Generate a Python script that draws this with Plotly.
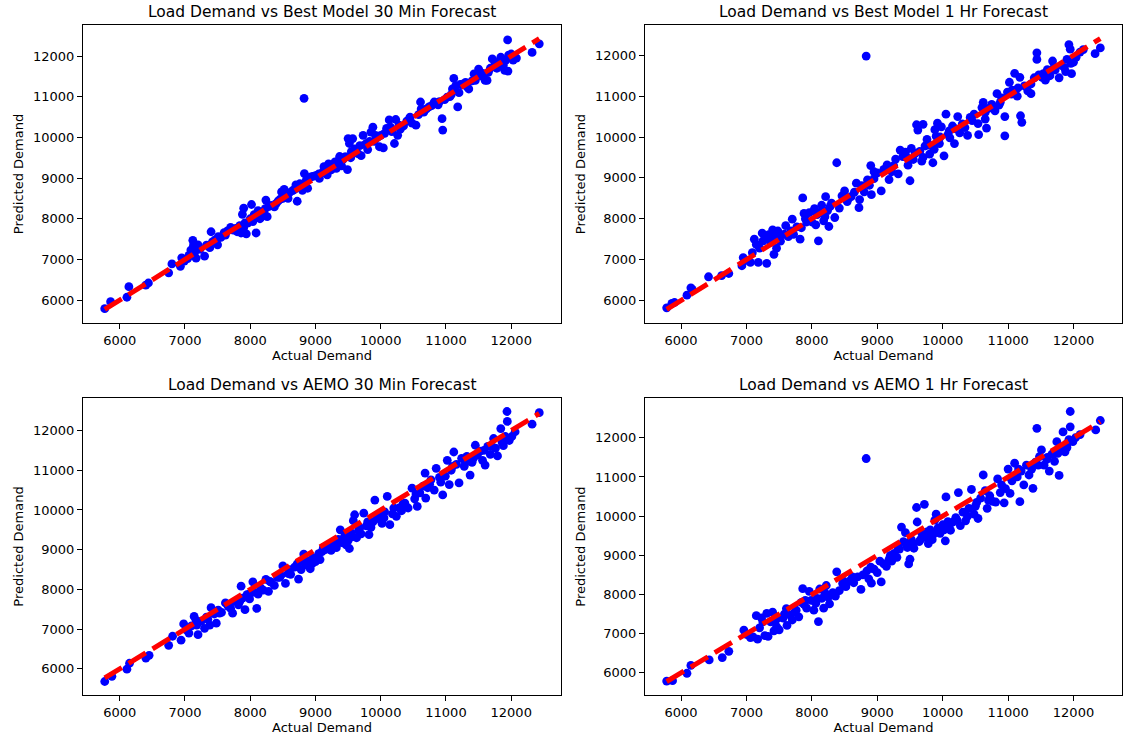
import plotly.graph_objects as go

# ---------------- data ----------------
titles = [
    "Load Demand vs Best Model 30 Min Forecast",
    "Load Demand vs Best Model 1 Hr Forecast",
    "Load Demand vs AEMO 30 Min Forecast",
    "Load Demand vs AEMO 1 Hr Forecast",
]
x_label = "Actual Demand"
y_label = "Predicted Demand"
tick_values = [6000, 7000, 8000, 9000, 10000, 11000, 12000]

best30_pairs = [
    (5770,5790),(5860,5960),(6110,6070),(6140,6330),(6400,6370),(6440,6420),(6750,6670),(6800,6890),
    (6930,6830),(6950,7040),(6990,6960),(7040,7020),(7090,7230),(7120,7470),(7100,7100),(7150,7180),
    (7170,7030),(7200,7360),(7230,7250),(7300,7080),(7330,7350),(7380,7290),(7400,7680),(7420,7430),
    (7460,7480),(7500,7360),(7510,7560),(7550,7540),(7600,7660),(7650,7700),(7700,7790),(7740,7720),
    (7780,7760),(7800,7680),(7840,7830),(7860,7650),(7880,8110),(7900,8260),(7920,7900),(7940,7630),
    (7960,7890),(8000,8000),(8020,8350),(8040,7930),(8060,8100),(8090,7650),(8120,8200),(8140,8130),
    (8180,8060),(8210,8150),(8240,8460),(8260,8050),(8280,8300),(8320,8330),(8370,8290),(8400,8380),
    (8430,8440),(8480,8660),(8500,8500),(8520,8720),(8560,8560),(8600,8640),(8650,8690),(8700,8830),
    (8720,8430),(8740,8780),(8760,8860),(8800,8700),(8825,10960),(8830,9110),(8860,8950),(8880,8750),
    (8900,8990),(8930,9030),(8960,9040),(9000,9060),(9030,9070),(9060,8990),(9100,9130),(9130,9280),
    (9160,9230),(9180,9080),(9200,9350),(9240,9200),(9270,9260),(9300,9400),(9320,9240),(9350,9420),
    (9370,9530),(9400,9300),(9450,9520),(9470,9520),(9490,9210),(9500,9970),(9520,9850),(9550,9650),
    (9570,9970),(9600,9720),(9650,9600),(9700,9550),(9730,10050),(9760,9820),(9800,9700),(9850,10130),
    (9880,10250),(9900,9900),(9950,10000),(9980,9770),(10000,10050),(10040,9740),(10090,10220),
    (10130,10430),(10170,10140),(10210,9850),(10230,10440),(10260,10050),(10300,10200),(10350,10280),
    (10400,10400),(10440,10460),(10480,10350),(10540,10300),(10580,10560),(10610,10870),(10660,10620),
    (10700,10700),(10740,10750),(10780,10780),(10820,10870),(10860,10850),(10900,10880),(10940,10460),
    (10950,10180),(10980,10930),(11020,10990),(11060,11000),(11100,11190),(11120,11450),(11150,11270),
    (11180,10750),(11200,11100),(11250,11300),(11300,11350),(11350,11190),(11400,11390),(11430,11560),
    (11460,11480),(11500,11680),(11530,11600),(11580,11560),(11600,11400),(11630,11400),(11680,11700),
    (11710,11930),(11750,11800),(11800,11850),(11840,11970),(11880,11780),(11920,11900),(11945,12395),
    (11950,11630),(11960,12020),(12000,12050),(12030,11900),(12080,11950),(12320,12090),(12430,12300),
    (7060,7100),(7130,7350),(7480,7440),(7620,7600),(7900,7780),(8150,8000),(8230,8250),(8460,8480),
    (8540,8600),(8580,8500),(8680,8720),(9050,9100),(9220,9280),(9330,9350),(9420,9450),(9540,9500),
    (9620,9650),(9680,9800),(9780,9850),(9830,9900),(9920,10050),(10060,10100),(10150,10250),
    (10280,10300),(10450,10500),(10620,10700),(10880,10800),(11080,11050),(11220,11300),(11320,11250),
    (11450,11400),(11560,11500),(11650,11600),(11780,11700),(11860,11750),(11900,11650),(12050,11980),
]

best60_pairs = [
    (5780,5820),
    (5860,5930),(5900,5950),(6090,6130),(6150,6310),(6170,6270),(6420,6580),(6620,6610),(6730,6660),
    (6930,6850),(6950,7050),(7000,6980),(7060,6930),(7090,7170),(7120,7500),(7150,7370),(7180,6930),
    (7200,7280),(7240,7650),(7280,7500),(7310,6910),(7340,7610),(7370,7420),(7400,7730),(7420,7130),
    (7440,7560),(7460,7280),(7480,7700),(7520,7450),(7580,7620),(7600,7830),(7640,7560),(7700,7990),
    (7720,7620),(7770,7800),(7820,7500),(7840,7780),(7860,8510),(7880,8130),(7920,7920),(7960,8150),
    (8000,7920),(8040,8250),(8060,7850),(8100,7460),(8120,8150),(8150,8330),(8180,7950),(8210,8540),
    (8240,8200),(8260,7810),(8300,8380),(8350,8030),(8380,9370),(8420,8260),(8460,8560),(8500,8680),
    (8540,8420),(8600,8540),(8680,8870),(8720,8270),(8730,8470),(8760,8810),(8800,8660),(8830,11980),
    (8850,8950),(8880,8820),(8900,9300),(8910,8590),(8950,8980),(9000,9120),(9060,8680),(9100,9210),
    (9150,9320),(9180,8960),(9220,9150),(9280,9460),(9320,9100),(9350,9680),(9390,9520),(9430,9630),
    (9470,9310),(9500,8930),(9520,9720),(9550,9450),(9600,10300),(9620,10170),(9650,9650),(9680,9410),
    (9700,10310),(9730,9780),(9760,9940),(9800,9580),(9830,9790),(9850,9370),(9880,10180),(9900,10020),
    (9920,10340),(9950,9840),(9980,10250),(10020,9540),(10050,10560),(10080,10060),(10110,9980),
    (10150,10270),(10180,9840),(10230,10500),(10260,10100),(10300,10320),(10340,10230),(10380,10040),
    (10420,10480),(10480,10560),(10540,10330),(10550,10060),(10600,10720),(10620,10850),(10650,10440),
    (10670,10220),(10700,10700),(10750,10800),(10800,10640),(10830,11060),(10860,10780),(10900,10960),
    (10950,10500),(10950,10030),(10990,11100),(11020,11340),(11060,11150),(11100,11560),(11140,11000),
    (11180,11460),(11190,10520),(11210,10360),(11250,11250),(11300,11130),(11350,11060),(11400,11450),
    (11440,12060),(11440,11900),(11470,11520),(11520,11460),(11570,11390),(11600,11650),(11640,11500),
    (11680,11860),(11720,11640),(11780,11450),(11820,11750),(11860,11700),(11900,11900),(11930,12260),
    (11950,12150),(11970,11550),(12000,11830),(12040,11950),(12100,12080),(12150,12140),(12330,12040),
    (12410,12180),
    (7250,7450),(7380,7600),(7500,7600),(7680,7700),(7900,8000),(8080,8100),(8200,8050),(8280,8300),
    (8560,8500),(8650,8650),(8950,9150),(9250,9300),(9450,9500),(9580,9600),(9700,9500),(9780,9800),
    (9870,9700),(9960,10000),(10100,10150),(10200,10200),(10450,10400),(10650,10600),(10780,10700),
    (10880,10850),(11050,11050),(11150,11200),(11350,11300),(11540,11550),(11700,11700),(11880,11600),
    (11960,11800),
]

aemo30_pairs = [
    (5770,5680),(5880,5810),(6110,5990),(6150,6140),(6400,6270),(6450,6340),(6750,6590),(6810,6820),
    (6940,6720),(6980,7130),(7020,6980),(7060,6900),(7100,7080),(7140,7320),(7170,7220),(7200,6860),
    (7250,7200),(7300,7020),(7330,7300),(7380,7100),(7400,7540),(7450,7380),(7480,7150),(7510,7480),
    (7560,7420),(7620,7660),(7660,7580),(7700,7520),(7730,7400),(7780,7700),(7820,7610),(7860,8080),
    (7880,7780),(7920,7490),(7950,7870),(7990,7760),(8040,8190),(8060,7930),(8100,7520),(8120,7880),
    (8160,8040),(8200,7980),(8240,8250),(8280,7950),(8320,8180),(8370,8100),(8420,8300),(8470,8350),
    (8500,8590),(8540,8150),(8580,8400),(8620,8380),(8680,8560),(8720,8640),(8740,8260),(8780,8500),
    (8820,8890),(8850,8620),(8880,8720),(8920,8520),(8960,8800),(9000,8700),(9050,8900),(9070,8750),
    (9100,8950),(9150,9000),(9200,9100),(9240,8980),(9280,9150),(9320,9050),(9350,9260),(9380,9500),
    (9400,9180),(9440,9300),(9470,9120),(9500,9230),(9520,9030),(9550,9420),(9580,9730),(9600,9880),
    (9630,9300),(9660,9480),(9700,9400),(9740,9920),(9780,9600),(9820,9380),(9850,9560),(9880,9700),
    (9910,10250),(9940,9780),(9980,9900),(10020,9660),(10050,9800),(10100,10340),(10140,9630),
    (10180,9900),(10240,9840),(10280,10050),(10320,9980),(10370,10170),(10420,10050),(10480,10550),
    (10520,10280),(10560,10090),(10600,10430),(10650,10600),(10680,10930),(10690,10300),(10720,10560),
    (10770,10760),(10820,10500),(10850,11050),(10900,10820),(10950,10380),(10990,10850),(11020,11250),
    (11050,10640),(11080,11000),(11120,11460),(11160,11150),(11200,10680),(11240,11300),(11280,11100),
    (11320,11350),(11370,10880),(11400,11200),(11450,11630),(11480,11380),(11520,11480),(11560,11250),
    (11600,11130),(11640,11600),(11680,11400),(11730,11800),(11760,11560),(11790,11360),(11840,12050),
    (11880,11620),(11910,11850),(11935,12480),(11940,12230),(11970,11750),(12010,11850),(12060,11970),
    (12320,12160),(12430,12450),
    (7180,7100),(7350,7250),(7530,7400),(7680,7600),(7840,7700),(8000,7900),(8300,8200),(8450,8300),
    (8600,8500),(8800,8700),(8950,8650),(9120,9050),(9300,9200),(9450,9350),(9560,9320),(9680,9550),
    (9800,9700),(9960,9800),(10060,9950),(10200,10050),(10340,10150),(10540,10400),(10750,10650),
    (10920,10700),(11100,11100),(11300,11200),(11420,11300),(11580,11500),(11700,11600),(11860,11700),
]

aemo60_pairs = [
    (5780,5790),
    (5870,5800),(6090,5990),(6150,6190),(6430,6330),(6630,6390),(6730,6550),(6960,7090),(7000,6980),
    (7060,6900),(7100,6920),(7150,7460),(7170,6860),(7200,7150),(7230,7400),(7280,6950),(7310,7520),
    (7330,6930),(7370,7300),(7400,7550),(7420,7070),(7460,7180),(7500,7100),(7560,7400),(7610,7640),
    (7620,7210),(7660,7480),(7700,7350),(7760,7600),(7800,7430),(7840,7800),(7860,8150),(7880,7750),
    (7920,7650),(7960,8080),(7990,7850),(8030,7600),(8060,7780),(8100,7310),(8120,8140),(8150,7900),
    (8180,7650),(8220,8230),(8250,7930),(8270,7760),(8320,8050),(8360,7960),(8380,8580),(8420,8100),
    (8470,8280),(8520,8200),(8580,8350),(8640,8300),(8700,8450),(8750,8130),(8780,8500),(8830,11470),
    (8840,8600),(8870,8400),(8910,8290),(8950,8650),(9000,8560),(9060,8320),(9100,8780),(9140,8720),
    (9180,8900),(9220,8850),(9260,9050),(9300,8950),(9340,9160),(9370,9720),(9400,9350),(9430,9580),
    (9460,9200),(9480,8780),(9500,8900),(9520,9400),(9560,9180),(9600,10220),(9610,9850),(9640,9350),
    (9680,9560),(9720,10300),(9750,9450),(9780,9300),(9810,9650),(9850,9520),(9880,9900),(9900,10050),
    (9930,9700),(9960,9560),(10000,9780),(10040,9370),(10050,10490),(10080,9860),(10120,9640),
    (10160,9850),(10200,9960),(10240,10600),(10270,9760),(10310,10100),(10350,9880),(10400,10200),
    (10440,10680),(10480,10050),(10520,10350),(10540,9940),(10580,10460),(10620,11050),(10650,10650),
    (10680,10200),(10720,10520),(10760,10380),(10810,10360),(10840,10950),(10880,10600),(10940,10340),
    (10960,10700),(11000,11200),(11030,10580),(11060,10900),(11100,11350),(11140,11000),(11180,10370),
    (11200,11150),(11240,10800),(11280,11300),(11320,11050),(11380,10710),(11420,11380),(11440,12240),
    (11480,11520),(11510,11690),(11550,11300),(11590,11450),(11630,11150),(11670,11580),(11710,11400),
    (11745,11900),(11780,11040),(11800,11700),(11840,12150),(11870,11640),(11900,11850),(11950,12670),
    (11950,12280),(11990,11900),(12030,12000),(12100,12080),(12340,12200),(12410,12440),
    (7250,7300),(7450,7350),(7580,7500),(7740,7550),(7900,7850),(8080,7900),(8200,8050),(8480,8350),
    (8620,8450),(8900,8700),(9040,8850),(9200,9000),(9320,9200),(9440,9300),(9540,9250),(9660,9400),
    (9760,9600),(9840,9400),(9920,9600),(10020,9650),(10100,9750),(10220,9900),(10380,10000),
    (10500,10250),(10700,10400),(10900,10800),(11050,10950),(11160,11200),(11360,11200),(11460,11300),
    (11600,11500),(11760,11600),(11900,11750),(11930,11950),
]

panels = [best30_pairs, best60_pairs, aemo30_pairs, aemo60_pairs]

# ---------------- layout geometry ----------------
W, H = 1124, 740
col_px = [(83, 561), (645, 1122)]
row_px = [(25, 323), (398, 695)]

FONT = "DejaVu Sans"
fig = go.Figure()

for i, pairs in enumerate(panels):
    r, c = divmod(i, 2)
    xs = [p[0] for p in pairs]
    ys = [p[1] for p in pairs]
    lo, hi = min(xs), max(xs)
    ax = "" if i == 0 else str(i + 1)
    fig.add_trace(go.Scatter(
        x=xs, y=ys, mode="markers",
        marker=dict(color="#0000ff", size=8.8, line=dict(width=0)),
        xaxis="x" + ax, yaxis="y" + ax, showlegend=False, hoverinfo="skip"))
    fig.add_trace(go.Scatter(
        x=[lo, hi], y=[lo, hi], mode="lines",
        line=dict(color="#ff0000", width=5, dash="20px,8px"),
        xaxis="x" + ax, yaxis="y" + ax, showlegend=False, hoverinfo="skip"))

    xmin, xmax = lo, hi
    ymin, ymax = min(min(ys), lo), max(max(ys), hi)
    xp, yp = 0.05 * (xmax - xmin), 0.05 * (ymax - ymin)
    x0, x1 = col_px[c]
    y0, y1 = row_px[r]
    common = dict(showline=True, linecolor="#000000", linewidth=1, mirror=True,
                  ticks="outside", ticklen=5, tickwidth=1, tickcolor="#000000",
                  showgrid=False, zeroline=False, tickvals=tick_values,
                  tickformat="d", tickfont=dict(family=FONT, size=13, color="#000000"),
                  automargin=False)
    fig.layout["xaxis" + ax] = dict(
        common, domain=[x0 / W, x1 / W], range=[xmin - xp, xmax + xp],
        anchor="y" + ax,
        title=dict(text=x_label, font=dict(family=FONT, size=13, color="#000000"), standoff=4))
    fig.layout["yaxis" + ax] = dict(
        common, domain=[1 - y1 / H, 1 - y0 / H], range=[ymin - yp, ymax + yp],
        anchor="x" + ax,
        title=dict(text=y_label, font=dict(family=FONT, size=13, color="#000000"), standoff=6))
    fig.add_annotation(
        text=titles[i], xref="paper", yref="paper",
        x=(x0 + x1) / 2 / W, y=1 - y0 / H, xanchor="center", yanchor="bottom",
        yshift=2, showarrow=False, font=dict(family=FONT, size=15.5, color="#000000"))

fig.update_layout(
    width=W, height=H, margin=dict(l=0, r=0, t=0, b=0),
    paper_bgcolor="white", plot_bgcolor="white",
    font=dict(family=FONT, color="#000000"))

fig.write_html("out.html")
